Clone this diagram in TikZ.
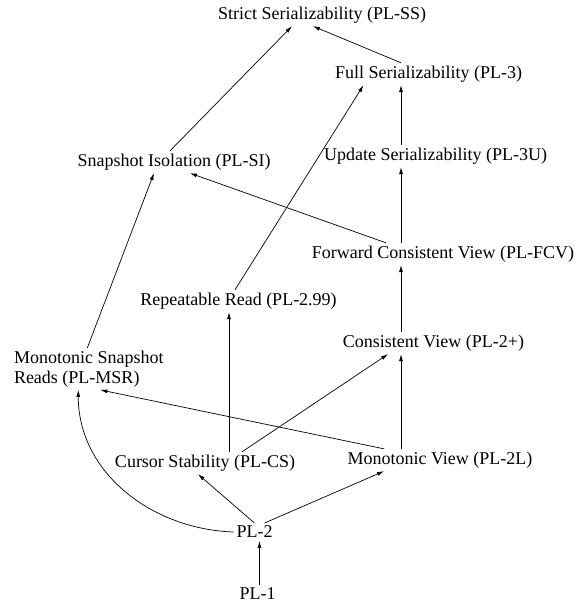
\documentclass[tikz,border=0pt]{standalone}
\usepackage{fontspec}
\setmainfont{Liberation Serif}
\usetikzlibrary{arrows.meta}
\begin{document}
\begin{tikzpicture}[x=1pt,y=-1pt,
		lvl/.style={inner sep=0pt,outer sep=3pt,font=\fontsize{18}{19.5}\selectfont},
		arr/.style={line width=0.7pt,-{Latex[length=7pt,width=4pt]}}]
			\useasboundingbox (0,0) rectangle (576,604);

			\node[lvl] (ss) at (322,15) {Strict Serializability (PL-SS)};
			\node[lvl] (pl3) at (428.5,74) {Full Serializability (PL-3)};
			\node[lvl] (si) at (174,162) {Snapshot Isolation (PL-SI)};
			\node[lvl] (pl3u) at (435.5,156) {Update Serializability (PL-3U)};
			\node[lvl] (fcv) at (443,254) {Forward Consistent View (PL-FCV)};
			\node[lvl] (rr) at (238.5,301) {Repeatable Read (PL-2.99)};
			\node[lvl] (cv) at (433.5,343) {Consistent View (PL-2+)};
			\node[lvl,align=left,anchor=west] (msr) at (11,369) {Monotonic Snapshot\\Reads (PL-MSR)};
			\node[lvl] (cs) at (205,463) {Cursor Stability (PL-CS)};
			\node[lvl] (mv) at (440,460) {Monotonic View (PL-2L)};
			\node[lvl] (pl2) at (254.5,532) {PL-2};
			\node[lvl] (pl1) at (257.5,594) {PL-1};

			\coordinate (col) at (401,0);

			\draw[arr] ([xshift=-4pt]si.north) -- ([xshift=-30pt]ss.south);
			\draw[arr] (pl3.north -| col) -- ([xshift=-9pt]ss.south);
			\draw[arr] ([xshift=-3.5pt]rr.north) -- ([xshift=-65pt]pl3.south);
			\draw[arr] (pl3u.north -| col) -- (pl3.south -| col);
			\draw[arr] (fcv.north -| col) -- (pl3u.south -| col);
			\draw[arr] ([xshift=-57pt]fcv.north) -- ([xshift=16pt]si.south);
			\draw[arr] (cv.north -| col) -- (fcv.south -| col);
			\draw[arr] ([xshift=-1.5pt]msr.north) -- ([xshift=-20pt]si.south);
			\draw[arr] ([xshift=24pt]cs.north) -- ([xshift=24pt]cs.north |- rr.south);
			\draw[arr] ([xshift=37pt]cs.north) -- ([xshift=-45.5pt]cv.south);
			\draw[arr] (mv.north -| col) -- (cv.south -| col);
			\draw[arr] ([xshift=-56pt]mv.north) -- ([xshift=11.5pt]msr.south);
			\draw[arr] (pl2.north) -- ([xshift=-7pt]cs.south);
			\draw[arr] ([xshift=10pt]pl2.north) -- ([xshift=-56pt]mv.south);
			\draw[arr] (pl2.west) to[out=178,in=-90] ([xshift=-10.5pt]msr.south);
			\draw[arr] ([xshift=2pt]pl1.north) -- ([xshift=2pt]pl1.north |- pl2.south);
	\end{tikzpicture}
\end{document}
